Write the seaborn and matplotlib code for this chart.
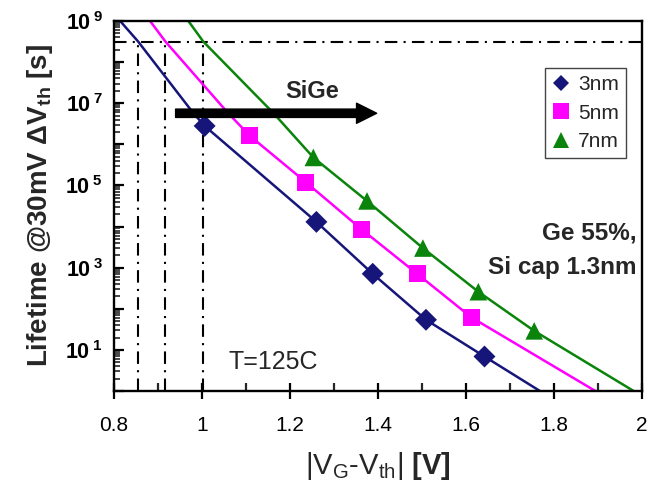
import math
import pandas as pd
import matplotlib
matplotlib.use("Agg")
import matplotlib.pyplot as plt
import seaborn as sns
from matplotlib.lines import Line2D
from matplotlib.ticker import LogLocator, MultipleLocator, FixedLocator, FuncFormatter, NullFormatter

# Data
sizes = ["3nm", "5nm", "7nm"]
colors = ["#16167a", "#ff00ff", "#0a840a"]
markers = ["D", "s", "^"]
marker_area = [125, 150, 160]

# measured points (V_G - V_th [V], lifetime [s])
v_3nm = [1.006, 1.26, 1.388, 1.509, 1.642]
t_3nm = [2.8e6, 1.3e4, 7.1e2, 54, 6.9]
v_5nm = [1.109, 1.236, 1.363, 1.489, 1.612]
t_5nm = [1.6e6, 1.2e5, 8.5e3, 7.1e2, 62]
v_7nm = [1.253, 1.375, 1.502, 1.628, 1.755]
t_7nm = [4.8e5, 4.2e4, 3.0e3, 2.6e2, 29]

# extrapolation curves
cv_3nm = [0.814, 0.855, 0.98, 1.006, 1.26, 1.388, 1.509, 1.642, 1.768]
ct_3nm = [1e9, 3.15e8, 5.8e6, 2.8e6, 1.3e4, 7.1e2, 54, 6.9, 1]
cv_5nm = [0.882, 0.917, 1.059, 1.109, 1.236, 1.363, 1.489, 1.612, 1.894]
ct_5nm = [1e9, 3.15e8, 5.8e6, 1.6e6, 1.2e5, 8.5e3, 7.1e2, 62, 1]
cv_7nm = [0.969, 1.003, 1.162, 1.253, 1.375, 1.502, 1.628, 1.755, 1.981]
ct_7nm = [1e9, 3.15e8, 5.8e6, 4.8e5, 4.2e4, 3.0e3, 2.6e2, 29, 1]

ten_years = 3.15e8
v_at_ten_years = [0.855, 0.917, 1.003]

pts = pd.concat([
    pd.DataFrame({"V": v_3nm, "t": t_3nm, "tox": "3nm"}),
    pd.DataFrame({"V": v_5nm, "t": t_5nm, "tox": "5nm"}),
    pd.DataFrame({"V": v_7nm, "t": t_7nm, "tox": "7nm"}),
], ignore_index=True)
curves = pd.concat([
    pd.DataFrame({"V": cv_3nm, "t": ct_3nm, "tox": "3nm"}),
    pd.DataFrame({"V": cv_5nm, "t": ct_5nm, "tox": "5nm"}),
    pd.DataFrame({"V": cv_7nm, "t": ct_7nm, "tox": "7nm"}),
], ignore_index=True)

sns.set_theme(style="ticks")
plt.rcParams["font.family"] = ["Liberation Sans", "DejaVu Sans"]
plt.rcParams["mathtext.fontset"] = "custom"
plt.rcParams["mathtext.rm"] = "Liberation Sans"
plt.rcParams["mathtext.bf"] = "Liberation Sans:bold"
plt.rcParams["mathtext.it"] = "Liberation Sans:italic"
plt.rcParams["mathtext.default"] = "regular"

pal = dict(zip(sizes, colors))

fig = plt.figure(figsize=(6.6, 4.95), dpi=100)
ax = fig.add_axes([114 / 660, 1 - 391 / 495, 528 / 660, 370 / 495])
ax.set_yscale("log")

sns.lineplot(data=curves, x="V", y="t", hue="tox", palette=pal, sort=False,
             estimator=None, lw=1.8, legend=False, ax=ax, zorder=2)
sns.scatterplot(data=pts, x="V", y="t", hue="tox", style="tox", size="tox",
                markers=dict(zip(sizes, markers)), sizes=dict(zip(sizes, marker_area)),
                palette=pal, linewidth=0, legend=False, ax=ax, zorder=3)

# 10-year guide lines
dashdot = (0, (6, 3, 1, 3))
ax.axhline(ten_years, color="black", lw=1.5, ls=dashdot, zorder=1)
ax.vlines(v_at_ten_years, 1, ten_years, colors="black", lw=1.5, linestyles=[dashdot], zorder=1)

ax.set_xlim(0.8, 2.0)
ax.set_ylim(1, 1e9)

ax.xaxis.set_major_locator(FixedLocator([0.8, 1.0, 1.2, 1.4, 1.6, 1.8, 2.0]))
ax.xaxis.set_minor_locator(MultipleLocator(0.1))
ax.xaxis.set_major_formatter(FuncFormatter(lambda v, p: "%g" % round(v, 1)))
ax.yaxis.set_major_locator(LogLocator(base=10, numticks=20))
ax.yaxis.set_minor_locator(LogLocator(base=10, subs=range(2, 10), numticks=20))
ax.yaxis.set_minor_formatter(NullFormatter())


def ylab(v, p):
    e = int(round(math.log10(v)))
    if e % 2 == 1:
        return r"$\mathbf{10}^{\;\mathbf{%d}}$" % e
    return ""


ax.yaxis.set_major_formatter(FuncFormatter(ylab))

ax.tick_params(axis="x", which="major", direction="inout", length=12, width=1.6,
               labelsize=15, pad=12, colors="black")
ax.tick_params(axis="x", which="minor", direction="in", length=6, width=1.6)
ax.tick_params(axis="y", which="major", direction="in", length=7, width=1.6,
               labelsize=15.5, pad=8, colors="black")
ax.tick_params(axis="y", which="minor", direction="in", length=4, width=1.2)

for s in ax.spines.values():
    s.set_linewidth(1.7)
    s.set_color("black")

ax.set_xlabel(r"|V$_{G}$-V$_{th}$| $\mathbf{[V]}$", fontsize=21)
ax.set_ylabel(r"Lifetime @30mV ΔV$_{th}$ [s]", fontsize=20, fontweight="bold")
ax.xaxis.set_label_coords(0.5, -0.16)
ax.yaxis.set_label_coords(-0.112, 0.5)

# arrow and annotations
ax.annotate("", xy=(1.397, 5.7e6), xytext=(0.94, 5.7e6),
            arrowprops=dict(arrowstyle="simple,head_length=1.45,head_width=1.45,tail_width=0.6",
                            color="black", shrinkA=0, shrinkB=0, mutation_scale=10))
ax.text(1.251, 1.9e7, "SiGe", fontsize=17, fontweight="bold", ha="center", va="center")
ax.text(1.988, 6.9e3, "Ge 55%,", fontsize=17.5, fontweight="bold", ha="right", va="center")
ax.text(1.988, 1.0e3, "Si cap 1.3nm", fontsize=17.5, fontweight="bold", ha="right", va="center")
ax.text(1.061, 5.0, "T=125C", fontsize=18, ha="left", va="center")

handles = [Line2D([], [], marker=m, color=c, ls="none", markersize=ms, markeredgewidth=0)
           for m, c, ms in zip(markers, colors, [8, 11, 12])]
leg = ax.legend(handles, sizes, loc="upper right", bbox_to_anchor=(0.9697, 0.873),
                fontsize=15, frameon=True, fancybox=False, edgecolor="#444444",
                framealpha=1, borderaxespad=0, labelspacing=0.45, handlelength=0.9,
                handletextpad=0.35, borderpad=0.35)
leg.get_frame().set_linewidth(1.0)

fig.savefig("out.png", dpi=100)
